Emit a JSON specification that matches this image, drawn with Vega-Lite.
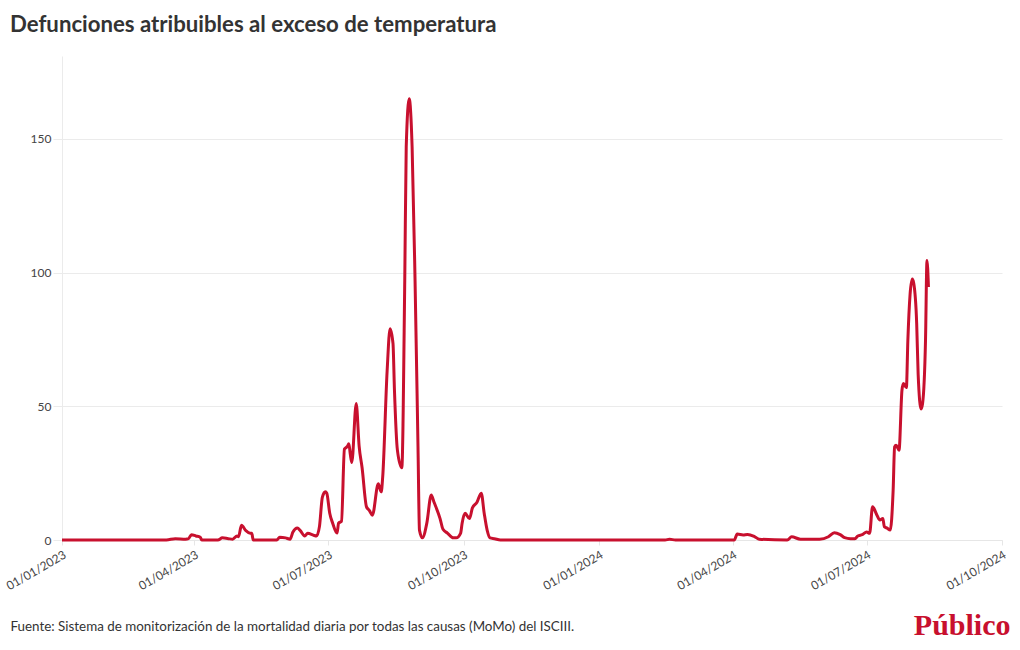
{
  "$schema": "https://vega.github.io/schema/vega-lite/v6.json",
  "autosize": {"type": "none"},
  "width": 940,
  "height": 484,
  "padding": {"left": 62, "top": 56, "right": 18, "bottom": 110},
  "background": "white",
  "title": {
    "text": "Defunciones atribuibles al exceso de temperatura",
    "anchor": "start",
    "frame": "group",
    "dx": -52,
    "offset": 2,
    "baseline": "alphabetic",
    "font": "Lato",
    "fontSize": 22.2,
    "fontWeight": "bold",
    "color": "#333333"
  },
  "config": {
    "view": {"stroke": null},
    "axis": {"labelFont": "Lato", "labelFontSize": 12, "labelColor": "#444444"}
  },
  "data": {
    "values": [
      {"fecha": "2023-01-01", "defunciones": 0},
      {"fecha": "2023-02-01", "defunciones": 0},
      {"fecha": "2023-03-13", "defunciones": 0},
      {"fecha": "2023-03-19", "defunciones": 0.5},
      {"fecha": "2023-03-26", "defunciones": 0.3},
      {"fecha": "2023-03-28", "defunciones": 0.5},
      {"fecha": "2023-03-30", "defunciones": 2},
      {"fecha": "2023-04-02", "defunciones": 1.5},
      {"fecha": "2023-04-05", "defunciones": 1},
      {"fecha": "2023-04-06", "defunciones": 0},
      {"fecha": "2023-04-17", "defunciones": 0},
      {"fecha": "2023-04-20", "defunciones": 0.8},
      {"fecha": "2023-04-24", "defunciones": 0.5},
      {"fecha": "2023-04-27", "defunciones": 0.3},
      {"fecha": "2023-04-30", "defunciones": 1.5},
      {"fecha": "2023-05-01", "defunciones": 1.2},
      {"fecha": "2023-05-03", "defunciones": 5.5},
      {"fecha": "2023-05-06", "defunciones": 3.5},
      {"fecha": "2023-05-09", "defunciones": 2.5},
      {"fecha": "2023-05-10", "defunciones": 2.5},
      {"fecha": "2023-05-11", "defunciones": 0},
      {"fecha": "2023-05-27", "defunciones": 0},
      {"fecha": "2023-05-29", "defunciones": 1},
      {"fecha": "2023-06-02", "defunciones": 0.8},
      {"fecha": "2023-06-05", "defunciones": 0.3},
      {"fecha": "2023-06-07", "defunciones": 3},
      {"fecha": "2023-06-10", "defunciones": 4.5},
      {"fecha": "2023-06-12", "defunciones": 3.5},
      {"fecha": "2023-06-15", "defunciones": 1.5},
      {"fecha": "2023-06-17", "defunciones": 2.5},
      {"fecha": "2023-06-21", "defunciones": 1.8},
      {"fecha": "2023-06-23", "defunciones": 1.5},
      {"fecha": "2023-06-25", "defunciones": 5},
      {"fecha": "2023-06-27", "defunciones": 16},
      {"fecha": "2023-06-29", "defunciones": 18},
      {"fecha": "2023-06-30", "defunciones": 17.5},
      {"fecha": "2023-07-02", "defunciones": 10},
      {"fecha": "2023-07-04", "defunciones": 6.3},
      {"fecha": "2023-07-07", "defunciones": 2.6},
      {"fecha": "2023-07-08", "defunciones": 6.3},
      {"fecha": "2023-07-10", "defunciones": 7},
      {"fecha": "2023-07-12", "defunciones": 34},
      {"fecha": "2023-07-14", "defunciones": 35},
      {"fecha": "2023-07-15", "defunciones": 36},
      {"fecha": "2023-07-16", "defunciones": 32},
      {"fecha": "2023-07-17", "defunciones": 29},
      {"fecha": "2023-07-20", "defunciones": 51},
      {"fecha": "2023-07-22", "defunciones": 35},
      {"fecha": "2023-07-24", "defunciones": 27},
      {"fecha": "2023-07-27", "defunciones": 12.4},
      {"fecha": "2023-07-29", "defunciones": 11},
      {"fecha": "2023-07-31", "defunciones": 9.3},
      {"fecha": "2023-08-04", "defunciones": 21},
      {"fecha": "2023-08-06", "defunciones": 18},
      {"fecha": "2023-08-07", "defunciones": 23.5},
      {"fecha": "2023-08-10", "defunciones": 63},
      {"fecha": "2023-08-12", "defunciones": 79},
      {"fecha": "2023-08-14", "defunciones": 73.5},
      {"fecha": "2023-08-15", "defunciones": 56},
      {"fecha": "2023-08-17", "defunciones": 33.6},
      {"fecha": "2023-08-20", "defunciones": 27},
      {"fecha": "2023-08-22", "defunciones": 97},
      {"fecha": "2023-08-23", "defunciones": 147},
      {"fecha": "2023-08-25", "defunciones": 165},
      {"fecha": "2023-08-27", "defunciones": 147},
      {"fecha": "2023-08-29", "defunciones": 97},
      {"fecha": "2023-08-31", "defunciones": 35},
      {"fecha": "2023-09-01", "defunciones": 3.7},
      {"fecha": "2023-09-03", "defunciones": 0.8},
      {"fecha": "2023-09-06", "defunciones": 6.3},
      {"fecha": "2023-09-09", "defunciones": 16.8},
      {"fecha": "2023-09-11", "defunciones": 14},
      {"fecha": "2023-09-15", "defunciones": 8},
      {"fecha": "2023-09-17", "defunciones": 4},
      {"fecha": "2023-09-20", "defunciones": 2.6},
      {"fecha": "2023-09-24", "defunciones": 0.8},
      {"fecha": "2023-09-26", "defunciones": 0.8},
      {"fecha": "2023-09-29", "defunciones": 2.6},
      {"fecha": "2023-09-30", "defunciones": 6.3},
      {"fecha": "2023-10-02", "defunciones": 10},
      {"fecha": "2023-10-05", "defunciones": 8},
      {"fecha": "2023-10-07", "defunciones": 12},
      {"fecha": "2023-10-10", "defunciones": 14},
      {"fecha": "2023-10-13", "defunciones": 17.5},
      {"fecha": "2023-10-15", "defunciones": 10},
      {"fecha": "2023-10-17", "defunciones": 3.7},
      {"fecha": "2023-10-19", "defunciones": 0.8},
      {"fecha": "2023-10-22", "defunciones": 0.5},
      {"fecha": "2023-10-26", "defunciones": 0},
      {"fecha": "2023-12-01", "defunciones": 0},
      {"fecha": "2024-01-15", "defunciones": 0},
      {"fecha": "2024-02-15", "defunciones": 0},
      {"fecha": "2024-02-18", "defunciones": 0.3},
      {"fecha": "2024-02-22", "defunciones": 0},
      {"fecha": "2024-04-02", "defunciones": 0},
      {"fecha": "2024-04-04", "defunciones": 2.2},
      {"fecha": "2024-04-08", "defunciones": 1.9},
      {"fecha": "2024-04-11", "defunciones": 2.1},
      {"fecha": "2024-04-16", "defunciones": 1.2},
      {"fecha": "2024-04-19", "defunciones": 0.3},
      {"fecha": "2024-05-08", "defunciones": 0},
      {"fecha": "2024-05-11", "defunciones": 1.2},
      {"fecha": "2024-05-17", "defunciones": 0.3},
      {"fecha": "2024-05-30", "defunciones": 0.3},
      {"fecha": "2024-06-05", "defunciones": 1.2},
      {"fecha": "2024-06-09", "defunciones": 2.7},
      {"fecha": "2024-06-13", "defunciones": 2},
      {"fecha": "2024-06-16", "defunciones": 0.9},
      {"fecha": "2024-06-20", "defunciones": 0.5},
      {"fecha": "2024-06-23", "defunciones": 0.5},
      {"fecha": "2024-06-25", "defunciones": 1.5},
      {"fecha": "2024-06-28", "defunciones": 2},
      {"fecha": "2024-07-01", "defunciones": 3},
      {"fecha": "2024-07-03", "defunciones": 2.5},
      {"fecha": "2024-07-05", "defunciones": 12.4},
      {"fecha": "2024-07-08", "defunciones": 9.3},
      {"fecha": "2024-07-10", "defunciones": 7.5},
      {"fecha": "2024-07-12", "defunciones": 8},
      {"fecha": "2024-07-13", "defunciones": 5},
      {"fecha": "2024-07-15", "defunciones": 4.4},
      {"fecha": "2024-07-17", "defunciones": 3.7},
      {"fecha": "2024-07-19", "defunciones": 18.6},
      {"fecha": "2024-07-20", "defunciones": 34.8},
      {"fecha": "2024-07-21", "defunciones": 35.4},
      {"fecha": "2024-07-23", "defunciones": 33.6},
      {"fecha": "2024-07-25", "defunciones": 56},
      {"fecha": "2024-07-26", "defunciones": 58.5},
      {"fecha": "2024-07-28", "defunciones": 57},
      {"fecha": "2024-07-29", "defunciones": 74.6},
      {"fecha": "2024-08-01", "defunciones": 97.6},
      {"fecha": "2024-08-02", "defunciones": 96},
      {"fecha": "2024-08-04", "defunciones": 81},
      {"fecha": "2024-08-05", "defunciones": 62},
      {"fecha": "2024-08-07", "defunciones": 49},
      {"fecha": "2024-08-08", "defunciones": 51},
      {"fecha": "2024-08-10", "defunciones": 74.6},
      {"fecha": "2024-08-11", "defunciones": 104.5},
      {"fecha": "2024-08-12", "defunciones": 94.6}
    ]
  },
  "mark": {"type": "line", "color": "#c8102e", "strokeWidth": 3, "interpolate": "monotone"},
  "encoding": {
    "x": {
      "field": "fecha",
      "type": "temporal",
      "scale": {
        "type": "utc",
        "domain": [
          {"year": 2023, "month": 1, "date": 1, "utc": true},
          {"year": 2024, "month": 10, "date": 1, "utc": true}
        ]
      },
      "axis": {
        "values": [
          {"year": 2023, "month": 1, "date": 1, "utc": true},
          {"year": 2023, "month": 4, "date": 1, "utc": true},
          {"year": 2023, "month": 7, "date": 1, "utc": true},
          {"year": 2023, "month": 10, "date": 1, "utc": true},
          {"year": 2024, "month": 1, "date": 1, "utc": true},
          {"year": 2024, "month": 4, "date": 1, "utc": true},
          {"year": 2024, "month": 7, "date": 1, "utc": true},
          {"year": 2024, "month": 10, "date": 1, "utc": true}
        ],
        "format": "%d/%m/%Y",
        "labelAngle": -30,
        "labelAlign": "right",
        "labelBaseline": "top",
        "labelPadding": 4,
        "labelOverlap": false,
        "labelFlush": false,
        "grid": false,
        "domainColor": "#e6e6e6",
        "tickColor": "#e6e6e6",
        "tickSize": 5,
        "title": "Fuente: Sistema de monitorización de la mortalidad diaria por todas las causas (MoMo) del ISCIII.",
        "titleFont": "Lato",
        "titleFontSize": 13.4,
        "titleFontWeight": "normal",
        "titleColor": "#333333",
        "titleAlign": "left",
        "titleAnchor": "start",
        "titleBaseline": "alphabetic",
        "titleX": -52,
        "titleY": 90
      }
    },
    "y": {
      "field": "defunciones",
      "type": "quantitative",
      "scale": {"domain": [0, 181], "nice": false},
      "axis": {
        "values": [0, 50, 100, 150],
        "grid": true,
        "gridColor": "#ebebeb",
        "domainColor": "#ebebeb",
        "tickColor": "#ebebeb",
        "tickSize": 9,
        "labelPadding": 2,
        "title": "Público",
        "titleFont": "Liberation Serif",
        "titleFontSize": 30,
        "titleFontWeight": "bold",
        "titleColor": "#c8102e",
        "titleAngle": 0,
        "titleAlign": "right",
        "titleBaseline": "alphabetic",
        "titleX": 948,
        "titleY": 578
      }
    }
  }
}
